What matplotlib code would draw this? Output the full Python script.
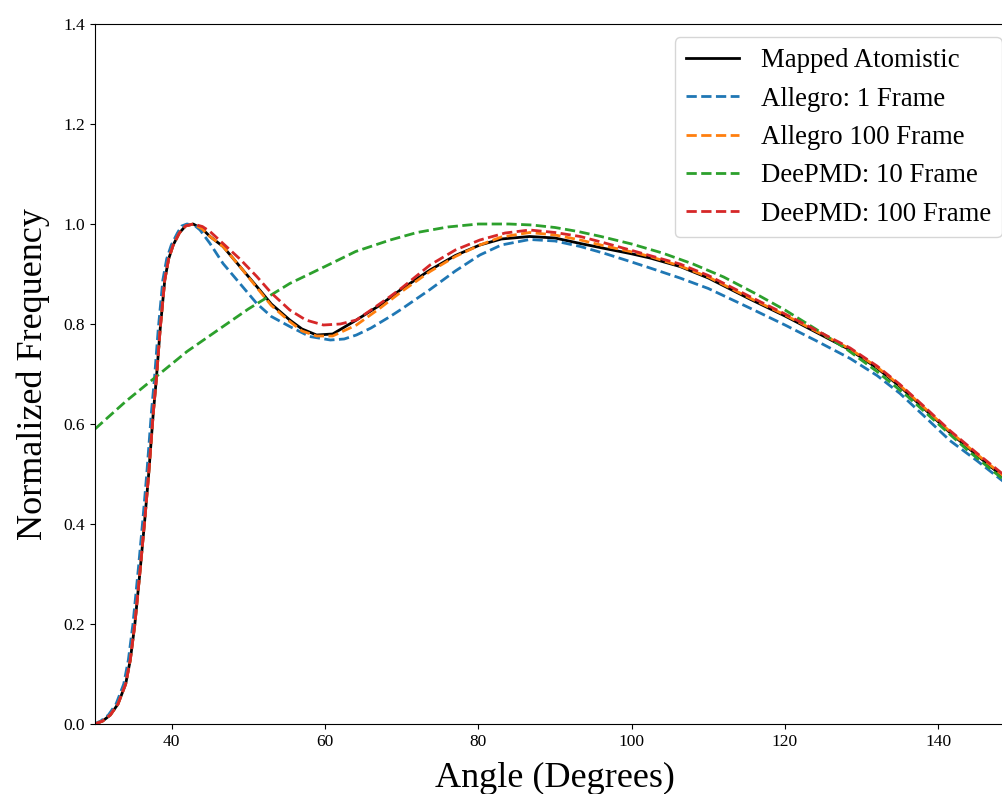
import matplotlib
matplotlib.use("Agg")
import matplotlib.pyplot as plt
import numpy as np

plt.rcParams['font.family'] = ['Liberation Serif', 'DejaVu Serif']

# ---- data ----
rise_x = [30, 31, 32, 33, 34, 34.6, 35.2, 35.9, 36.5, 37, 37.6, 38, 38.5, 39.1, 39.6, 40.2, 41, 41.8, 42.8]
rise_y = [0.0, 0.006, 0.018, 0.04, 0.08, 0.128, 0.2, 0.31, 0.41, 0.5, 0.622, 0.69, 0.79, 0.888, 0.93, 0.958, 0.982, 0.996, 1.0]

tail_x = [44, 45, 46.7, 48.9, 51.1, 53, 55.4, 57, 58.9, 61, 64.1, 67.2, 70, 73.7, 77, 80.2, 83, 86.7, 90, 93.3, 96.5, 99.8, 102.4, 106.3, 110, 115.4, 120, 124, 128.5, 132, 135, 138, 141.5, 145, 148.4, 150]

mapped_x = rise_x + tail_x
mapped_y = rise_y + [0.99, 0.975, 0.955, 0.915, 0.875, 0.84, 0.808, 0.79, 0.778, 0.78, 0.808, 0.838, 0.87, 0.908, 0.937, 0.958, 0.97, 0.975, 0.972, 0.961, 0.951, 0.941, 0.932, 0.915, 0.892, 0.85, 0.816, 0.784, 0.748, 0.712, 0.675, 0.633, 0.583, 0.538, 0.495, 0.475]

allegro1_x = [29.9, 30.75, 31.75, 32.75, 33.75, 34.35, 34.95, 35.65, 36.25, 36.75, 37.35, 37.75, 38.25, 38.85, 39.35, 39.95, 40.75, 41.3, 42.0,
              43.0, 43.7, 45, 46.7, 48.9, 51.1, 53, 55.4, 58, 60.7, 62.5, 64.1, 66, 68.5, 70, 73.7, 77, 80.2, 83, 86.7, 90, 93.3, 96.5, 99.8, 102.4, 106.3, 110, 115.4, 120, 124, 128.5, 132, 135, 138, 141.5, 145, 148.4, 150]
allegro1_y = [0.0, 0.006, 0.018, 0.04, 0.08, 0.128, 0.2, 0.31, 0.41, 0.5, 0.622, 0.69, 0.79, 0.888, 0.93, 0.958, 0.982, 0.996, 1.0,
              0.997, 0.988, 0.961, 0.921, 0.881, 0.841, 0.815, 0.795, 0.775, 0.768, 0.77, 0.778, 0.792, 0.815, 0.83, 0.869, 0.906, 0.938, 0.958, 0.969, 0.966, 0.955, 0.941, 0.925, 0.912, 0.892, 0.871, 0.832, 0.798, 0.767, 0.731, 0.697, 0.661, 0.618, 0.567, 0.527, 0.486, 0.468]

allegro100_x = rise_x + tail_x
allegro100_y = rise_y + [0.99, 0.975, 0.955, 0.915, 0.873, 0.837, 0.805, 0.786, 0.776, 0.776, 0.798, 0.832, 0.865, 0.905, 0.935, 0.958, 0.974, 0.983, 0.978, 0.968, 0.956, 0.945, 0.935, 0.916, 0.894, 0.852, 0.818, 0.786, 0.75, 0.714, 0.677, 0.635, 0.585, 0.54, 0.497, 0.477]

deepmd10_x = [30, 34, 38, 42, 46.7, 50, 55.4, 60, 64, 68.5, 72, 76, 80, 84, 87, 90, 93, 96, 100, 104, 108, 112, 116, 120, 124, 128, 132, 136, 140, 144, 148.4, 150]
deepmd10_y = [0.59, 0.645, 0.695, 0.745, 0.795, 0.83, 0.881, 0.915, 0.945, 0.968, 0.983, 0.994, 1.0, 1.0, 0.998, 0.993, 0.985, 0.975, 0.96, 0.942, 0.92, 0.894, 0.862, 0.828, 0.79, 0.75, 0.705, 0.655, 0.6, 0.545, 0.49, 0.47]

deepmd100_x = rise_x + [44, 45, 46.7, 48.9, 51.1, 53, 55.4, 57.5, 59.8, 62, 64.1, 66, 68.5, 70, 73.7, 77, 80.2, 83.5, 86.7, 90, 93.3, 96.5, 99.8, 106.3, 110, 115.4, 120, 124, 128.5, 132, 135, 138, 141.5, 145, 148.4, 150]
deepmd100_y = rise_y + [0.995, 0.985, 0.961, 0.93, 0.895, 0.862, 0.828, 0.808, 0.798, 0.8, 0.808, 0.828, 0.855, 0.872, 0.918, 0.948, 0.968, 0.982, 0.988, 0.983, 0.975, 0.962, 0.948, 0.92, 0.897, 0.855, 0.82, 0.788, 0.752, 0.716, 0.679, 0.637, 0.587, 0.542, 0.5, 0.48]

labels = ["Mapped Atomistic", "Allegro: 1 Frame", "Allegro 100 Frame", "DeePMD: 10 Frame", "DeePMD: 100 Frame"]
colors = ["black", "#1f77b4", "#ff7f0e", "#2ca02c", "#d62728"]

x_ticks = [40, 60, 80, 100, 120, 140]
y_ticks = [0.0, 0.2, 0.4, 0.6, 0.8, 1.0, 1.2, 1.4]

# ---- figure ----
fig = plt.figure(figsize=(10.03, 7.94), dpi=100)
ax = fig.add_axes([95 / 1003, 70 / 794, 920 / 1003, 700 / 794])

series = [(mapped_x, mapped_y), (allegro1_x, allegro1_y), (allegro100_x, allegro100_y),
          (deepmd10_x, deepmd10_y), (deepmd100_x, deepmd100_y)]
for i, ((xs, ys), lab, col) in enumerate(zip(series, labels, colors)):
    ls = '-' if i == 0 else '--'
    ax.plot(xs, ys, ls, color=col, lw=2, label=lab)

ax.set_xlim(30, 150)
ax.set_ylim(0, 1.4)
ax.set_xticks(x_ticks)
ax.set_yticks(y_ticks)
ax.set_xticklabels([str(t) for t in x_ticks])
ax.set_yticklabels([f"{t:.1f}" for t in y_ticks])
ax.tick_params(labelsize=12.5)
ax.set_xlabel("Angle (Degrees)", fontsize=26, labelpad=9)
ax.set_ylabel("Normalized Frequency", fontsize=26, labelpad=10)
ax.legend(loc='upper right', fontsize=19.3, handlelength=2.0)

fig.savefig("out.png", dpi=100)
